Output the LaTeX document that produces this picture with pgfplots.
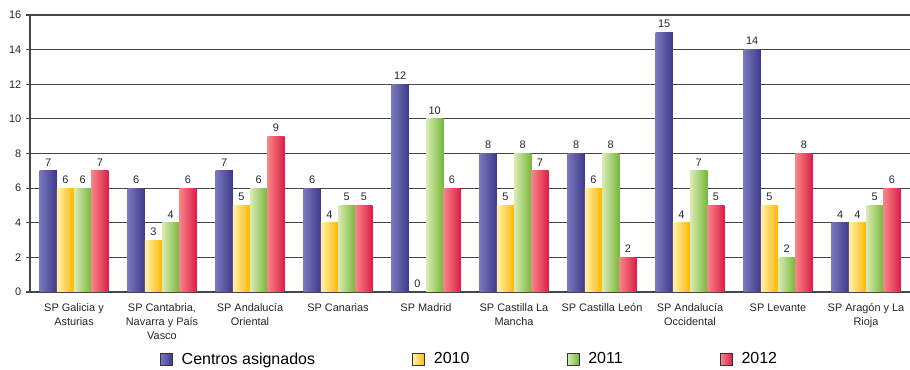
\documentclass[border=0pt]{standalone}
\usepackage{fontspec}
\setmainfont{Liberation Sans}
\usepackage{pgfplots}
\usepackage{pgfplotstable}
\pgfplotsset{compat=1.18}
\definecolor{bL}{RGB}{122,120,186}
\definecolor{bR}{RGB}{60,56,140}
\definecolor{yL}{RGB}{255,242,175}
\definecolor{yR}{RGB}{255,184,0}
\definecolor{gL}{RGB}{218,236,180}
\definecolor{gR}{RGB}{118,184,58}
\definecolor{rL}{RGB}{246,135,135}
\definecolor{rR}{RGB}{222,28,74}
\definecolor{gridc}{RGB}{70,70,70}
% x: category index; c: Centros asignados; a: 2010; b: 2011; d: 2012
\pgfplotstableread{
x c  a  b  d
0 7  6  6  7
1 6  3  4  6
2 7  5  6  9
3 6  4  5  5
4 12 0  10 6
5 8  5  8  7
6 8  6  8  2
7 15 4  7  5
8 14 5  2  8
9 4  4  5  6
}\datatable
\begin{document}
\begin{tikzpicture}
\begin{axis}[
  name=ax,
  scale only axis,
  width=660pt, height=207.75pt,
  xmin=-0.5, xmax=9.5, ymin=0, ymax=16,
  enlargelimits=false,
  axis lines*=left,
  axis line style={draw=gridc, line width=0.8pt},
  ytick={0,2,...,16},
  ymajorgrids,
  grid style={draw=gridc, line width=0.8pt},
  xtick={0,...,9},
  xticklabels={SP Galicia y\\Asturias, {SP Cantabria,\\Navarra y País\\Vasco}, SP Andalucía\\Oriental, SP Canarias, SP Madrid, SP Castilla La\\Mancha, SP Castilla León, SP Andalucía\\Occidental, SP Levante, SP Aragón y La\\Rioja},
  xticklabel style={font=\fontsize{8.2pt}{10.5pt}\selectfont, align=center, text=black!85, yshift=-2pt},
  x tick style={draw=none},
  extra x ticks={0.5,1.5,...,8.5},
  extra x tick labels={},
  extra x tick style={major tick length=3pt, tick align=outside, tick style={draw=gridc, line width=0.8pt}, grid=none},
  yticklabel style={font=\fontsize{8.2pt}{10pt}\selectfont, text=black!85},
  y tick style={draw=gridc, line width=0.8pt},
  major tick length=3pt,
  tick align=outside,
  /pgf/number format/assume math mode=true,
  nodes near coords,
  nodes near coords style={font=\fontsize{8.2pt}{10pt}\selectfont, text=black!85},
  legend columns=-1,
  legend style={at={(axis description cs:0.5,0)}, anchor=center, yshift=-50.5pt, draw=none, fill=none,
    font=\fontsize{12pt}{14pt}\selectfont,
    /tikz/every odd column/.append style={column sep=4.5pt},
    /tikz/every even column/.append style={column sep=71pt}},
  legend image code/.code={\draw[#1,/tikz/.cd,draw=black!80,line width=0.6pt] (0pt,-4.5pt) rectangle (9pt,4.5pt);},
]
\pgfplotsinvokeforeach{0,...,9}{
  \addplot[forget plot, ybar, bar width=0.196, bar shift=-0.294, draw=none, left color=bL, right color=bR,
    every node near coord/.append style={xshift=-19.40pt}]
    table[x=x, y=c, restrict x to domain=#1:#1] {\datatable};
  \addplot[forget plot, ybar, bar width=0.196, bar shift=-0.098, draw=none, left color=yL, right color=yR,
    every node near coord/.append style={xshift=-6.47pt}]
    table[x=x, y=a, restrict x to domain=#1:#1] {\datatable};
  \addplot[forget plot, ybar, bar width=0.196, bar shift=0.098, draw=none, left color=gL, right color=gR,
    every node near coord/.append style={xshift=6.47pt}]
    table[x=x, y=b, restrict x to domain=#1:#1] {\datatable};
  \addplot[forget plot, ybar, bar width=0.196, bar shift=0.294, draw=none, left color=rL, right color=rR,
    every node near coord/.append style={xshift=19.40pt}]
    table[x=x, y=d, restrict x to domain=#1:#1] {\datatable};
}
\addlegendimage{left color=bL, right color=bR}
\addlegendentry{Centros asignados}
\addlegendimage{left color=yL, right color=yR}
\addlegendentry{2010}
\addlegendimage{left color=gL, right color=gR}
\addlegendentry{2011}
\addlegendimage{left color=rL, right color=rR}
\addlegendentry{2012}
\end{axis}
\pgfresetboundingbox
\path ([xshift=-22.5pt, yshift=-58.5pt]ax.south west) rectangle ([yshift=11.25pt]ax.north east);
\end{tikzpicture}
\end{document}
